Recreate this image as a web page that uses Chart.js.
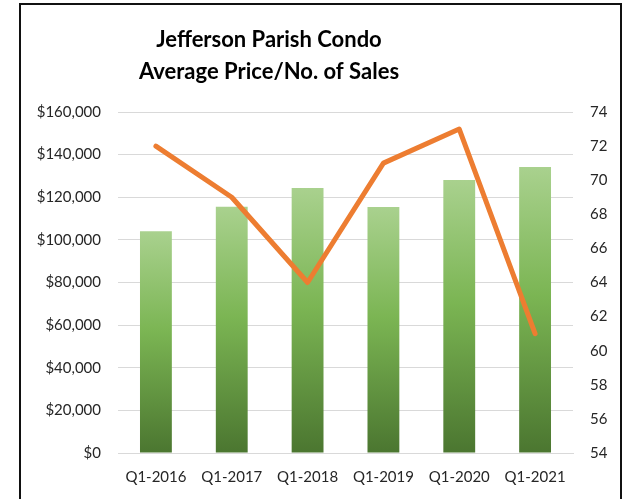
<!DOCTYPE html>
<html>
<head>
<meta charset="utf-8">
<script src="https://cdn.jsdelivr.net/npm/chart.js@4/dist/chart.umd.min.js"></script>
<style>
  html, body { margin: 0; padding: 0; background: #fff; }
  #wrap { position: relative; width: 629px; height: 499px; overflow: hidden; }
  #frame { position: absolute; left: 19px; top: 3px; width: 599px; height: 520px; border: 2px solid #111; pointer-events: none; }
  canvas { position: absolute; left: 0; top: 0; }
</style>
</head>
<body>
<div id="wrap">
  <canvas id="chart" width="629" height="499"></canvas>
  <div id="frame"></div>
</div>
<script>
// ── DATA ──────────────────────────────────────────────────────────────
var quarters = ['Q1-2016', 'Q1-2017', 'Q1-2018', 'Q1-2019', 'Q1-2020', 'Q1-2021'];
var avgPrice = [104000, 115500, 124300, 115400, 128100, 134200];
var numSales = [72, 69, 64, 71, 73, 61];
var titleLines = ['Jefferson Parish Condo', 'Average Price/No. of Sales'];

var FONT = 'Lato, "Open Sans", sans-serif';
var tickColor = '#262626';
var gridColor = '#d9d9d9';

// per-bar vertical gradient, light on top, dark at the base
function barGradient(ctx) {
  var chart = ctx.chart;
  if (!chart.chartArea || ctx.raw == null) return '#70ad47';
  var y = chart.scales.y;
  var top = y.getPixelForValue(ctx.raw);
  var bot = y.getPixelForValue(0);
  var g = chart.ctx.createLinearGradient(0, top, 0, bot);
  g.addColorStop(0, '#a9d18e');
  g.addColorStop(0.45, '#7bb553');
  g.addColorStop(1, '#4b7630');
  return g;
}

// title drawn by hand so it can sit where Excel put it
var titlePlugin = {
  id: 'xlTitle',
  afterDraw: function(chart) {
    var c = chart.ctx;
    c.save();
    c.fillStyle = '#000';
    c.font = 'bold 22px ' + FONT;
    c.textAlign = 'center';
    c.textBaseline = 'alphabetic';
    c.fillText(titleLines[0], 269, 47);
    c.fillText(titleLines[1], 269, 79);
    c.restore();
  }
};

new Chart(document.getElementById('chart'), {
  data: {
    labels: quarters,
    datasets: [
      {
        type: 'line',
        label: 'No. of Sales',
        data: numSales,
        yAxisID: 'y1',
        borderColor: '#ed7d31',
        borderWidth: 5,
        borderCapStyle: 'round',
        borderJoinStyle: 'round',
        pointRadius: 0,
        tension: 0,
        order: 0,
      },
      {
        type: 'bar',
        label: 'Average Price',
        data: avgPrice,
        yAxisID: 'y',
        backgroundColor: barGradient,
        barPercentage: 0.42,
        categoryPercentage: 1,
        order: 1,
      },
    ],
  },
  plugins: [titlePlugin],
  options: {
    responsive: false,
    animation: false,
    layout: { padding: { top: 112, left: 0, right: 0, bottom: 0 } },
    plugins: {
      legend: { display: false },
      title: { display: false },
      tooltip: { enabled: false },
    },
    scales: {
      x: {
        grid: { display: false, drawTicks: false },
        border: { color: gridColor, width: 1 },
        ticks: { color: tickColor, font: { family: FONT, size: 15 }, padding: 15 },
        afterFit: function(s) { s.height = 46; },
      },
      y: {
        position: 'left',
        min: 0,
        max: 160000,
        ticks: {
          stepSize: 20000,
          color: tickColor,
          font: { family: FONT, size: 15 },
          padding: 17,
          callback: function(v) { return '$' + v.toLocaleString('en-US'); },
        },
        grid: { color: gridColor, lineWidth: 1, drawTicks: false },
        border: { display: false },
        afterFit: function(s) { s.width = 118; },
      },
      y1: {
        position: 'right',
        min: 54,
        max: 74,
        ticks: {
          stepSize: 2,
          color: tickColor,
          font: { family: FONT, size: 15 },
          padding: 17,
        },
        grid: { drawOnChartArea: false, drawTicks: false },
        border: { display: false },
        afterFit: function(s) { s.width = 56; },
      },
    },
  },
});
</script>
</body>
</html>
